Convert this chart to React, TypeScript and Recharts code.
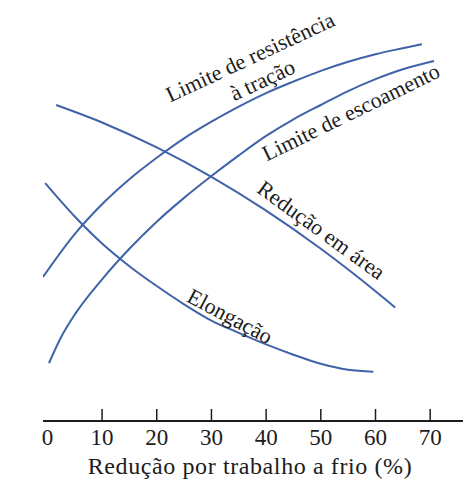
import { LineChart, Line, XAxis, YAxis, ReferenceDot } from 'recharts'

// cold work (%) vs property (arbitrary units, 0-100)
const tensileStrength = [
  { pct: -0.8, val: 36.3 },
  { pct: 5, val: 47.1 },
  { pct: 10, val: 54.6 },
  { pct: 15, val: 60.9 },
  { pct: 20, val: 66.3 },
  { pct: 25, val: 71.2 },
  { pct: 30, val: 75.4 },
  { pct: 35, val: 79.2 },
  { pct: 40, val: 82.6 },
  { pct: 45, val: 85.5 },
  { pct: 50, val: 88.2 },
  { pct: 55, val: 90.5 },
  { pct: 60, val: 92.4 },
  { pct: 65, val: 93.9 },
  { pct: 68.5, val: 94.9 },
]

const yieldStrength = [
  { pct: 0.3, val: 14.6 },
  { pct: 2.5, val: 21.1 },
  { pct: 5, val: 26.8 },
  { pct: 10, val: 35.7 },
  { pct: 15, val: 43.4 },
  { pct: 20, val: 50.2 },
  { pct: 25, val: 56.2 },
  { pct: 30, val: 61.7 },
  { pct: 35, val: 66.9 },
  { pct: 40, val: 71.8 },
  { pct: 45, val: 76.0 },
  { pct: 50, val: 79.6 },
  { pct: 55, val: 83.1 },
  { pct: 60, val: 86.1 },
  { pct: 65, val: 88.6 },
  { pct: 70.7, val: 90.7 },
]

const areaReduction = [
  { pct: 1.6, val: 79.6 },
  { pct: 10, val: 75.2 },
  { pct: 20, val: 68.9 },
  { pct: 30, val: 61.5 },
  { pct: 40, val: 53.0 },
  { pct: 50, val: 43.4 },
  { pct: 60, val: 32.7 },
  { pct: 63.6, val: 28.6 },
]

const elongation = [
  { pct: -0.4, val: 59.9 },
  { pct: 5, val: 51.5 },
  { pct: 10, val: 44.7 },
  { pct: 15, val: 39.0 },
  { pct: 20, val: 34.0 },
  { pct: 25, val: 29.4 },
  { pct: 30, val: 25.3 },
  { pct: 35, val: 22.2 },
  { pct: 40, val: 19.3 },
  { pct: 45, val: 16.7 },
  { pct: 50, val: 14.4 },
  { pct: 55, val: 12.9 },
  { pct: 59.6, val: 12.4 },
]

const xTicks = [0, 10, 20, 30, 40, 50, 60, 70]

// label anchors (data coords) and the text written along each curve
const curveLabels = [
  { text: 'Limite de resistência', pct: 37.1, val: 91.7, angle: -25 },
  { text: 'à tração', pct: 39.3, val: 85.9, angle: -25 },
  { text: 'Limite de escoamento', pct: 55.5, val: 77.8, angle: -26 },
  { text: 'Redução em área', pct: 50.1, val: 48.1, angle: 36 },
  { text: 'Elongação', pct: 33.4, val: 26.4, angle: 28 },
]

const FONT = '"Liberation Serif", "Times New Roman", serif'
const INK = '#1c1c1c'
const BLUE = '#3f63a8'

const BottomTick = (props: any) => {
  const { x, y, payload } = props
  return (
    <g>
      {payload.value !== 0 && (
        <line x1={x} x2={x} y1={y} y2={y - 12} stroke={INK} strokeWidth={1.5} />
      )}
      <text x={x} y={y + 24} textAnchor="middle" style={{ fontFamily: FONT }} fontSize={23} fill={INK}>
        {payload.value}
      </text>
    </g>
  )
}

const CurveLabel = ({ viewBox, text, angle }: any) => {
  const cx = viewBox.x + viewBox.width / 2
  const cy = viewBox.y + viewBox.height / 2
  return (
    <text
      x={cx}
      y={cy}
      transform={`rotate(${angle} ${cx} ${cy})`}
      textAnchor="middle"
      dominantBaseline="central"
      style={{ fontFamily: FONT }}
      fontSize={22}
      fill={INK}
    >
      {text}
    </text>
  )
}

export default function App() {
  return (
    <div style={{ position: 'absolute', left: 0, top: 0, width: 463, height: 482, background: '#fff' }}>
      <LineChart width={463} height={482} margin={{ top: 24, right: 0, left: 43, bottom: 0 }}>
        <XAxis
          type="number"
          dataKey="pct"
          domain={[-0.8, 76]}
          ticks={xTicks}
          allowDataOverflow
          height={61}
          tickSize={0}
          tickMargin={0}
          tickLine={false}
          tick={<BottomTick />}
          axisLine={{ stroke: INK, strokeWidth: 2 }}
          label={{
            content: ({ viewBox }: any) => (
              <text
                x={viewBox.x + viewBox.width / 2 - 3}
                y={viewBox.y + 53}
                textAnchor="middle"
                style={{ fontFamily: FONT, letterSpacing: 0.6 }}
                fontSize={24}
                fill={INK}
              >
                Redução por trabalho a frio (%)
              </text>
            ),
          }}
        />
        <YAxis
          type="number"
          dataKey="val"
          domain={[0, 100]}
          width={0}
          tick={false}
          tickLine={false}
          axisLine={{ stroke: INK, strokeWidth: 2 }}
          label={{
            content: () => (
              <text
                x={29}
                y={208}
                transform="rotate(-90 29 208)"
                textAnchor="middle"
                style={{ fontFamily: FONT }}
                fontSize={23}
                fill={INK}
              >
                Propriedade
              </text>
            ),
          }}
        />
        <Line data={tensileStrength} dataKey="val" type="monotone" stroke={BLUE} strokeWidth={2} dot={false} isAnimationActive={false} />
        <Line data={yieldStrength} dataKey="val" type="monotone" stroke={BLUE} strokeWidth={2} dot={false} isAnimationActive={false} />
        <Line data={areaReduction} dataKey="val" type="monotone" stroke={BLUE} strokeWidth={2} dot={false} isAnimationActive={false} />
        <Line data={elongation} dataKey="val" type="monotone" stroke={BLUE} strokeWidth={2} dot={false} isAnimationActive={false} />
        {curveLabels.map((l) => (
          <ReferenceDot
            key={l.text}
            x={l.pct}
            y={l.val}
            r={0}
            fill="none"
            stroke="none"
            label={{ content: (p: any) => <CurveLabel {...p} text={l.text} angle={l.angle} /> }}
          />
        ))}
      </LineChart>
    </div>
  )
}
